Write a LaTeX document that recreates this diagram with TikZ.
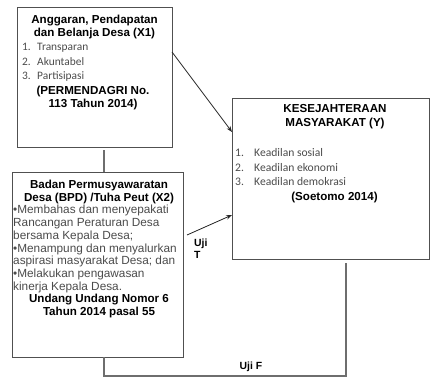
\documentclass[tikz,border=0pt]{standalone}
\usepackage{fontspec}
\setmainfont{Liberation Sans}
\newfontfamily\carl{Carlito}
\usetikzlibrary{arrows.meta}
\definecolor{boxline}{RGB}{80,80,80}
\definecolor{connline}{RGB}{110,110,110}
\definecolor{txtgray}{RGB}{75,75,75}
\tikzset{
  box/.style={draw=boxline, line width=0.75pt, rectangle, inner sep=0pt, anchor=north west},
  ttl/.style={font=\fontsize{11.6}{13}\selectfont\bfseries, align=center, inner sep=0pt},
  lst/.style={font=\carl\fontsize{11.4}{14.5}\selectfont, text=txtgray, align=left, inner sep=0pt, anchor=west},
  bul/.style={font=\fontsize{11.8}{12.7}\selectfont, text=txtgray, align=left, inner sep=0pt, anchor=west},
  lbl/.style={font=\fontsize{10.4}{12}\selectfont\bfseries, align=left, inner sep=0pt},
  arr/.style={draw=black!85, line width=0.8pt, -{Stealth[length=6pt,width=4.5pt]}},
  conn/.style={draw=connline, line width=1.3pt},
}
\newcommand{\nm}[1]{\makebox[15pt][l]{#1}}
\begin{document}
\begin{tikzpicture}[x=1pt,y=-1pt]
\useasboundingbox (0,0) rectangle (430,378);
% boxes
\node[box, minimum width=155pt, minimum height=140pt] (x1) at (17,7) {};
\node[box, minimum width=171pt, minimum height=185pt] (x2) at (12,172) {};
\node[box, minimum width=197pt, minimum height=161pt] (y) at (232,98) {};
% X1 text
\node[ttl] (x1t) at (94.5,26.5) {Anggaran, Pendapatan\\dan Belanja Desa (X1)};
\node[lst] (x1l) at (22,62.5) {\nm{1.}Transparan\\\nm{2.}Akuntabel\\\nm{3.}Partisipasi};
\node[ttl] (x1r) at (93,97.5) {(PERMENDAGRI No.\\113 Tahun 2014)};
% X2 text
\node[ttl] (x2t) at (99,191.5) {Badan Permusyawaratan\\Desa (BPD) /Tuha Peut (X2)};
\node[bul] (x2l) at (13,249) {•Membahas dan menyepakati\\Rancangan Peraturan Desa\\bersama Kepala Desa;\\•Menampung dan menyalurkan\\aspirasi masyarakat Desa; dan\\•Melakukan pengawasan\\kinerja Kepala Desa.};
\node[ttl] (x2r) at (99,305.5) {Undang Undang Nomor 6\\Tahun 2014 pasal 55};
% Y text
\node[ttl, font=\fontsize{11.6}{14}\selectfont\bfseries] (yt) at (335,117) {KESEJAHTERAAN\\MASYARAKAT (Y)};
\node[lst, font=\carl\fontsize{11.6}{14.5}\selectfont] (yl) at (235,167.5) {\nm{1.}\hspace{4pt}Keadilan sosial\\\nm{2.}\hspace{4pt}Keadilan ekonomi\\\nm{3.}\hspace{4pt}Keadilan demokrasi};
\node[ttl] (yr) at (334.5,197) {(Soetomo 2014)};
% connector anchor points
\coordinate (a1) at (172,52);
\coordinate (a1e) at (232,132);
\coordinate (a2) at (187,235);
\coordinate (a2e) at (232,215);
\coordinate (v1s) at (104,150);
\coordinate (v1e) at (104,172);
\coordinate (fs) at (104,357);
\coordinate (fb) at (104,376);
\coordinate (fc) at (346,376);
\coordinate (fe) at (346,263);
% connectors
\draw[arr] (a1) -- (a1e);
\draw[arr] (a2) -- (a2e);
\draw[conn] (v1s) -- (v1e);
\draw[conn] (fs) -- (fb) -- (fc) -- (fe);
% labels
\node[lbl, anchor=west] (ujit) at (194,249) {Uji\\T};
\node[lbl] (ujif) at (251,367) {Uji F};
\end{tikzpicture}
\end{document}
